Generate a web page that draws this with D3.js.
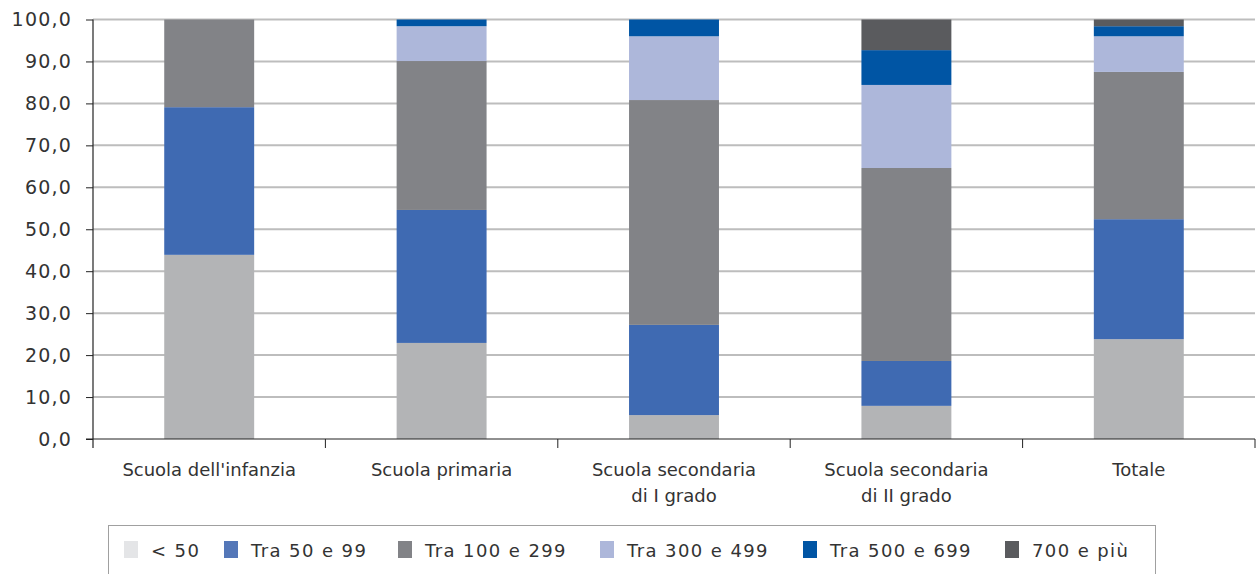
<!DOCTYPE html>
<html><head><meta charset="utf-8">
<script src="https://cdn.jsdelivr.net/npm/d3@7"></script>
<style>body{margin:0;background:#fff}svg{display:block}text{font-family:"DejaVu Sans",sans-serif;fill:#333}</style>
</head><body><svg id="c" width="1257" height="574"></svg>
<script>
const categories = [["Scuola dell'infanzia"],["Scuola primaria"],["Scuola secondaria","di I grado"],["Scuola secondaria","di II grado"],["Totale"]];
const seriesNames = ["< 50","Tra 50 e 99","Tra 100 e 299","Tra 300 e 499","Tra 500 e 699","700 e più"];
const s_lt50   = [43.9, 22.9, 5.7, 7.9, 23.8];
const s_50_99  = [35.2, 31.7, 21.5, 10.7, 28.6];
const s_100_299= [20.9, 35.5, 53.6, 46.0, 35.1];
const s_300_499= [0.0, 8.3, 15.2, 19.8, 8.5];
const s_500_699= [0.0, 1.6, 4.0, 8.3, 2.4];
const s_700    = [0.0, 0.0, 0.0, 7.3, 1.6];
const yTicks = [0,10,20,30,40,50,60,70,80,90,100];
const barColors = ["#b3b4b6","#3f6ab2","#828387","#adb7da","#0055a4","#5a5b5e"];
const legendColors = ["#e4e5e7","#5477b8","#828387","#adb7da","#0055a4","#5a5b5e"];

const series = [s_lt50,s_50_99,s_100_299,s_300_499,s_500_699,s_700];
const rows = categories.map((c,i)=>{const o={key:i};seriesNames.forEach((n,j)=>o[n]=series[j][i]);return o;});
const stack = d3.stack().keys(seriesNames)(rows);

const svg = d3.select("#c");
const x0=93,x1=1255,yTop=19.5,yBot=439;
const x = d3.scaleBand().domain(d3.range(categories.length)).range([x0,x1]).paddingInner(0.613).paddingOuter(0.3065);
const y = d3.scaleLinear().domain([0,100]).range([yBot,yTop]);

// grid
svg.append("g").selectAll("line").data(yTicks.filter(t=>t>0)).join("line")
  .attr("x1",x0).attr("x2",x1).attr("y1",d=>y(d)).attr("y2",d=>y(d))
  .attr("stroke","#bdbdbd").attr("stroke-width",2);

// bars
svg.append("g").selectAll("g").data(stack).join("g").attr("fill",(d,i)=>barColors[i])
  .selectAll("rect").data(d=>d).join("rect")
  .attr("x",(d,i)=>x(i)).attr("width",x.bandwidth())
  .attr("y",d=>y(d[1])).attr("height",d=>Math.max(0,y(d[0])-y(d[1])));

// y axis
const ya = svg.append("g").attr("transform",`translate(${x0},0)`)
  .call(d3.axisLeft(y).tickValues(yTicks).tickSize(7).tickPadding(14).tickFormat(d=>d3.format(".1f")(d).replace(".",",")));
ya.select(".domain").attr("d",`M0,${yTop}V${yBot+9}`).attr("stroke","#222").attr("stroke-width",1.2);
ya.selectAll(".tick line").attr("stroke","#222");
ya.selectAll("text").style("font-size","19px").style("letter-spacing","1.2px").attr("fill","#333");

// x axis
const xa = svg.append("g");
xa.append("line").attr("x1",x0-7).attr("x2",x1).attr("y1",yBot).attr("y2",yBot).attr("stroke","#222").attr("stroke-width",1.2);
const bounds = d3.range(categories.length+1).map(i=>x0+i*(x1-x0)/categories.length);
xa.selectAll("line.t").data(bounds.slice(1)).join("line").attr("class","t")
  .attr("x1",d=>d).attr("x2",d=>d).attr("y1",yBot).attr("y2",yBot+9).attr("stroke","#222");
const lbl = xa.selectAll("text").data(categories).join("text")
  .attr("text-anchor","middle").style("font-size","18px").attr("fill","#333");
lbl.selectAll("tspan").data((d,i)=>d.map(t=>({t,i}))).join("tspan")
  .attr("x",d=>x(d.i)+x.bandwidth()/2).attr("y",(d,k)=>476+k*26).text(d=>d.t);

// legend
svg.append("rect").attr("x",108.5).attr("y",525.5).attr("width",1047).attr("height",60)
  .attr("fill","none").attr("stroke","#a0a0a0");
const lx = [124,224,398,600,803,1005];
const lg = svg.append("g").selectAll("g").data(seriesNames).join("g").attr("transform",(d,i)=>`translate(${lx[i]},0)`);
lg.append("rect").attr("x",0).attr("y",541).attr("width",14).attr("height",17).attr("fill",(d,i)=>legendColors[i]);
lg.append("text").attr("x",27).attr("y",557).style("font-size","18px").style("letter-spacing","1.4px").attr("fill","#333").text(d=>d);
</script></body></html>
